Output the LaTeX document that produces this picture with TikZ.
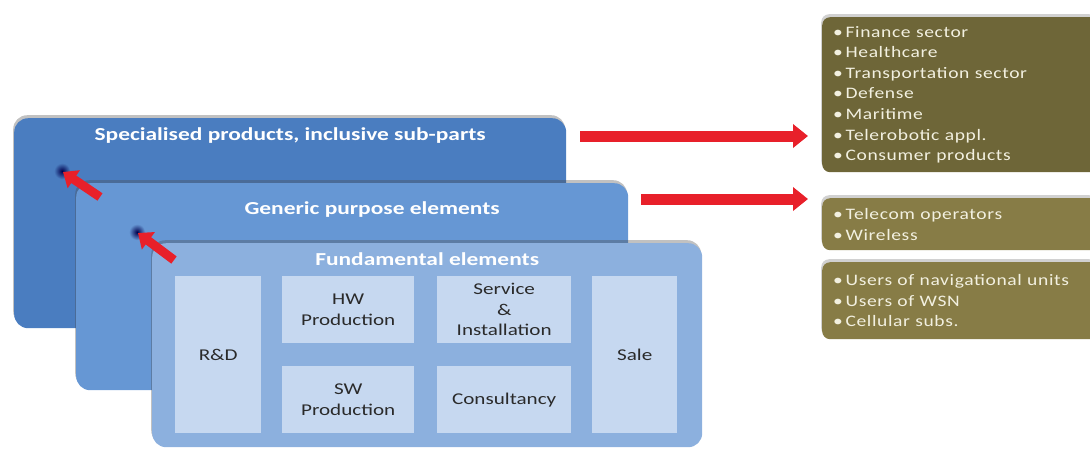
\documentclass[tikz,border=0pt]{standalone}
\usepackage{fontspec}
\setmainfont{Carlito}[FakeStretch=1.28]
\newfontfamily\listfont{Carlito}[FakeStretch=1.22,LetterSpace=4]
\usetikzlibrary{arrows.meta,shadows,calc}

\definecolor{specblue}{HTML}{4A7DC0}
\definecolor{genblue}{HTML}{6697D4}
\definecolor{fundblue}{HTML}{8CB0DE}
\definecolor{partblue}{HTML}{C6D8F0}
\definecolor{olivedark}{HTML}{6E6638}
\definecolor{olivelight}{HTML}{877C46}
\definecolor{listtext}{HTML}{F2F0E0}
\definecolor{arrowred}{HTML}{E8202A}
\definecolor{parttext}{HTML}{2A2A2A}

\begin{document}
\begin{tikzpicture}[
  x=1pt, y=-1pt,
  layer/.style={rectangle, rounded corners=14pt, anchor=north west, inner sep=0pt,
    drop shadow={shadow xshift=-1pt, shadow yshift=3pt, opacity=.35, fill=black!70}},
  boxtitle/.style={text=white, font=\fontsize{18.3}{22}\selectfont\bfseries},
  part/.style={rectangle, fill=partblue, anchor=north west, inner sep=0pt, text=parttext,
    align=center, font=\fontsize{16.5}{20.5}\selectfont},
  market/.style={rectangle, rounded corners=8pt, anchor=north west,
    inner xsep=11pt, inner ysep=0pt, text width=254pt, align=left, text=listtext,
    font=\listfont\fontsize{16}{20.6}\selectfont,
    drop shadow={shadow xshift=-1pt, shadow yshift=3pt, opacity=.3, fill=black!60}},
  bigarrow/.style={draw=arrowred, line width=11pt, -{Triangle[width=23pt,length=15pt]}},
  smallarrow/.style={draw=arrowred, line width=9pt, -{Triangle[width=21pt,length=13pt]}}
  ]
  \useasboundingbox (0,0) rectangle (1090,448);

  % the three layers
  \node[layer, fill=specblue, minimum width=552pt, minimum height=210pt] (spec) at (14,118) {};
  \node[boxtitle] (spectitle) at ([yshift=-18pt]spec.north) {Specialised products, inclusive sub-parts};

  \node[layer, fill=genblue, minimum width=552pt, minimum height=207pt] (generic) at (76,183) {};
  \node[boxtitle] (gentitle) at ([xshift=20pt,yshift=-27pt]generic.north) {Generic purpose elements};

  \node[layer, fill=fundblue, minimum width=550pt, minimum height=204pt] (fund) at (152,243) {};
  \node[boxtitle] (fundtitle) at ([yshift=-16pt]fund.north) {Fundamental elements};

  % fundamental parts
  \node[part, minimum width=86pt, minimum height=157pt] (rd) at (175,276) {R\&D};
  \node[part, minimum width=132pt, minimum height=67pt] (hw) at (282,276) {HW\\Production};
  \node[part, minimum width=134pt, minimum height=67pt] (service) at (437,276) {Service\\\&\\Installation};
  \node[part, minimum width=132pt, minimum height=67pt] (sw) at (282,366) {SW\\Production};
  \node[part, minimum width=134pt, minimum height=67pt] (consult) at (437,366) {Consultancy};
  \node[part, minimum width=85pt, minimum height=157pt] (sale) at (592,276) {Sale};

  % markets
  \node[market, fill=olivedark, minimum height=155pt] (apps) at (822,17)
    {\textbullet\,Finance sector\\ \textbullet\,Healthcare\\ \textbullet\,Transportation sector\\
     \textbullet\,Defense\\ \textbullet\,Maritime\\ \textbullet\,Telerobotic appl.\\
     \textbullet\,Consumer products};
  \node[market, fill=olivelight, minimum height=52pt] (telecom) at (822,198)
    {\textbullet\,Telecom operators\\ \textbullet\,Wireless};
  \node[market, fill=olivelight, minimum height=77pt] (users) at (822,262)
    {\textbullet\,Users of navigational units\\ \textbullet\,Users of WSN\\ \textbullet\,Cellular subs.};

  % arrows
  \coordinate (specout) at ([shift={(14,18)}]spec.north east);
  \coordinate (genout) at ([shift={(13,16)}]generic.north east);
  \draw[bigarrow] (specout) -- ($(specout -| apps.west)+(-14,0)$);
  \draw[bigarrow] (genout) -- ($(genout -| telecom.west)+(-14,0)$);

  \shade[inner color=black!70!blue, outer color=specblue] ([shift={(-14,-12)}]generic.north west) circle (8);
  \shade[inner color=black!70!blue, outer color=genblue] ([shift={(-15,-11)}]fund.north west) circle (8);
  \draw[smallarrow] ([shift={(24,14)}]generic.north west) -- ([shift={(-13,-11)}]generic.north west);
  \draw[smallarrow] ([shift={(22,17)}]fund.north west) -- ([shift={(-14,-10)}]fund.north west);
\end{tikzpicture}
\end{document}
